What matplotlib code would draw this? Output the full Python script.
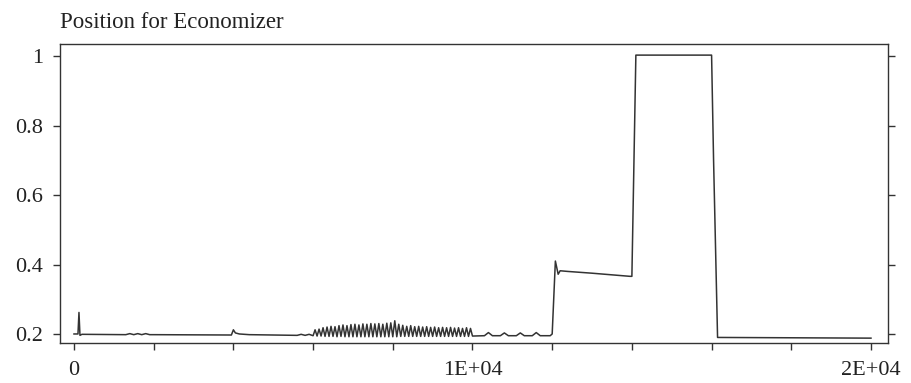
import matplotlib
matplotlib.use("Agg")
from matplotlib import pyplot as plt
import numpy as np

plt.rcParams['font.family'] = ['Liberation Serif', 'DejaVu Serif']

# main trajectory (time s, position)
base_t = [0, 100, 125, 150, 200, 1300, 1400, 1500, 1600, 1700, 1800, 1900, 2000, 3950,
          4000, 4050, 4150, 4400, 5000, 5600, 5700, 5800, 5900]
base_v = [0.200, 0.200, 0.262, 0.196, 0.199, 0.198, 0.201, 0.198, 0.201, 0.198, 0.201, 0.198, 0.198, 0.197,
          0.212, 0.203, 0.200, 0.198, 0.197, 0.196, 0.199, 0.196, 0.199]

# oscillating band 6000-10000 (alternating trough / peak)
osc_t = [6000, 6050, 6100, 6150, 6200, 6250, 6300, 6350, 6400, 6450, 6500, 6550, 6600, 6650, 6700, 6750,
         6800, 6850, 6900, 6950, 7000, 7050, 7100, 7150, 7200, 7250, 7300, 7350, 7400, 7450, 7500, 7550,
         7600, 7650, 7700, 7750, 7800, 7850, 7900, 7950, 8000, 8050, 8100, 8150, 8200, 8250, 8300, 8350,
         8400, 8450, 8500, 8550, 8600, 8650, 8700, 8750, 8800, 8850, 8900, 8950, 9000, 9050, 9100, 9150,
         9200, 9250, 9300, 9350, 9400, 9450, 9500, 9550, 9600, 9650, 9700, 9750, 9800, 9850, 9900, 9950, 10000]
osc_v = [0.195, 0.212, 0.194, 0.214, 0.194, 0.218, 0.193, 0.220, 0.193, 0.222, 0.193, 0.221, 0.192, 0.224, 0.193, 0.226,
         0.192, 0.224, 0.192, 0.227, 0.192, 0.228, 0.192, 0.226, 0.192, 0.229, 0.192, 0.228, 0.192, 0.230, 0.192, 0.229,
         0.192, 0.230, 0.192, 0.228, 0.192, 0.231, 0.192, 0.232, 0.192, 0.238, 0.192, 0.228, 0.193, 0.225, 0.193, 0.222,
         0.193, 0.224, 0.193, 0.221, 0.193, 0.222, 0.193, 0.220, 0.193, 0.221, 0.193, 0.219, 0.193, 0.220, 0.193, 0.218,
         0.193, 0.219, 0.193, 0.218, 0.193, 0.219, 0.193, 0.217, 0.193, 0.218, 0.193, 0.216, 0.193, 0.218, 0.193, 0.216, 0.194]

# tail: small bumps, then steps
tail_t = [10300, 10400, 10500, 10700, 10800, 10900, 11100, 11200, 11300, 11500, 11600, 11700, 11950,
          12000, 12080, 12150, 12200, 12400, 13000, 13950, 14000, 14100, 16000, 16050, 16150, 20000]
tail_v = [0.195, 0.204, 0.195, 0.195, 0.203, 0.195, 0.195, 0.203, 0.195, 0.195, 0.204, 0.195, 0.195,
          0.200, 0.410, 0.372, 0.382, 0.380, 0.375, 0.366, 0.366, 1.003, 1.003, 0.700, 0.190, 0.188]

t = np.array(base_t + osc_t + tail_t)
v = np.array(base_v + osc_v + tail_v)

fig = plt.figure(figsize=(9.12, 3.83), dpi=100)
ax = fig.add_axes([60 / 912, 40 / 383, 828 / 912, 299 / 383])
ax.plot(t, v, color='#333333', lw=1.1)

ax.set_xlim(-351, 20427)
ax.set_ylim(0.174, 1.035)
ax.set_yticks([0.2, 0.4, 0.6, 0.8, 1.0])
ax.set_yticklabels(['0.2', '0.4', '0.6', '0.8', '1'])
ax.set_xticks(range(0, 20001, 2000))
ax.set_xticklabels(['0', '', '', '', '', '1E+04', '', '', '', '', '2E+04'])
ax.tick_params(axis='both', direction='out', length=5, width=1, colors='#333333',
               labelsize=16, labelcolor='#222222')
ax.tick_params(axis='x', pad=8)
ax.tick_params(axis='y', right=True, pad=7)
for s in ax.spines.values():
    s.set_color('#333333')
    s.set_linewidth(1.0)

fig.text(60 / 912, 1 - 22 / 383, 'Position for Economizer', fontsize=16.5,
         color='#222222', ha='left', va='center')

fig.savefig('out.png', dpi=100)
